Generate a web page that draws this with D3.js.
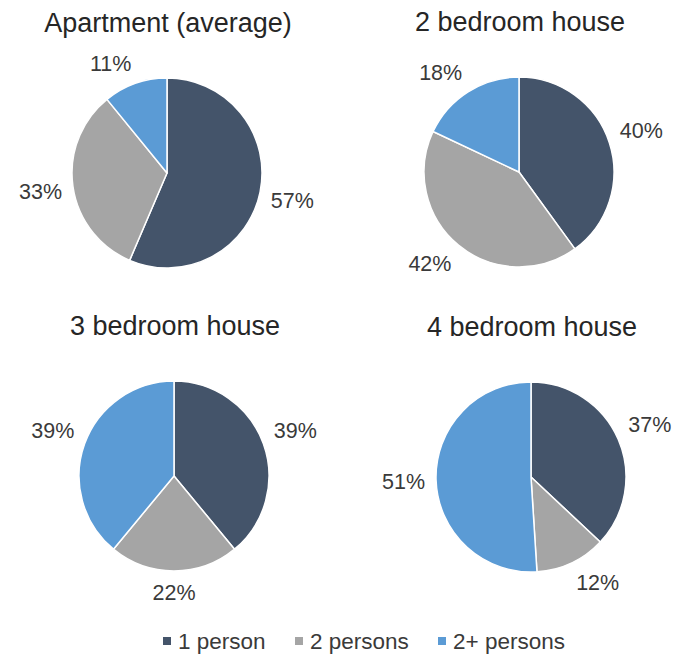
<!DOCTYPE html>
<html>
<head>
<meta charset="utf-8">
<script src="https://cdn.jsdelivr.net/npm/d3@7"></script>
<style>
  html, body { margin: 0; padding: 0; background: #ffffff; }
  svg { display: block; }
  text { font-family: "Liberation Sans", Arial, sans-serif; }
</style>
</head>
<body>
<div id="chart"></div>
<script>
// ---- data ----
const categories = ["1 person", "2 persons", "2+ persons"];
const chartTitles = ["Apartment (average)", "2 bedroom house", "3 bedroom house", "4 bedroom house"];
const apartment = [57, 33, 11];
const bedroom2 = [40, 42, 18];
const bedroom3 = [39, 22, 39];
const bedroom4 = [37, 12, 51];
const seriesValues = [apartment, bedroom2, bedroom3, bedroom4];
const colors = ["#44546a", "#a5a5a5", "#5b9bd5"];

// ---- layout ----
const W = 674, H = 654;
const panels = [
  { cx: 167, cy: 173 },
  { cx: 519, cy: 172 },
  { cx: 174, cy: 476 },
  { cx: 531, cy: 477 }
];
const radius = 95;

const svg = d3.select("#chart").append("svg")
  .attr("width", W).attr("height", H);

const color = d3.scaleOrdinal().domain(categories).range(colors);
const pie = d3.pie().sort(null).value(d => d.value).startAngle(0).endAngle(2 * Math.PI);
const arc = d3.arc().innerRadius(0).outerRadius(radius);

seriesValues.forEach((vals, i) => {
  const p = panels[i];
  const g = svg.append("g").attr("transform", `translate(${p.cx},${p.cy})`);
  const data = categories.map((c, k) => ({ cat: c, value: vals[k] }));
  const arcs = pie(data);

  g.selectAll("path").data(arcs).enter().append("path")
    .attr("d", arc)
    .attr("fill", d => color(d.data.cat))
    .attr("stroke", "#ffffff")
    .attr("stroke-width", 1.5)
    .attr("stroke-linejoin", "round");

  // title
  svg.append("text")
    .attr("x", p.cx + 1)
    .attr("y", p.cy - 141)
    .attr("text-anchor", "middle")
    .attr("font-size", 27)
    .attr("fill", "#262626")
    .text(chartTitles[i]);

  // labels (outside end)
  const clamp = v => Math.max(-1, Math.min(1, v));
  arcs.forEach(a => {
    const mid = (a.startAngle + a.endAngle) / 2;
    const ux = Math.sin(mid), uy = -Math.cos(mid);
    const t = g.append("text")
      .attr("text-anchor", "middle")
      .attr("dy", "0.35em")
      .attr("font-size", 21.5)
      .attr("fill", "#3a3a3a")
      .text(a.data.value + "%");
    const w = t.node().getComputedTextLength();
    const h = 20;
    const rr = radius + 11;
    const x = ux * rr + clamp(ux * 3) * w / 2;
    const y = uy * rr + clamp(uy * 3) * h / 2;
    t.attr("x", x).attr("y", y);
  });
});

// ---- legend ----
const legendX = [163, 295, 438];
const legend = svg.append("g");
categories.forEach((c, k) => {
  legend.append("rect")
    .attr("x", legendX[k]).attr("y", 637)
    .attr("width", 8).attr("height", 8)
    .attr("fill", color(c));
  legend.append("text")
    .attr("x", legendX[k] + 15)
    .attr("y", 641)
    .attr("dy", "0.35em")
    .attr("font-size", 22.5)
    .attr("fill", "#3a3a3a")
    .text(c);
});
</script>
</body>
</html>
